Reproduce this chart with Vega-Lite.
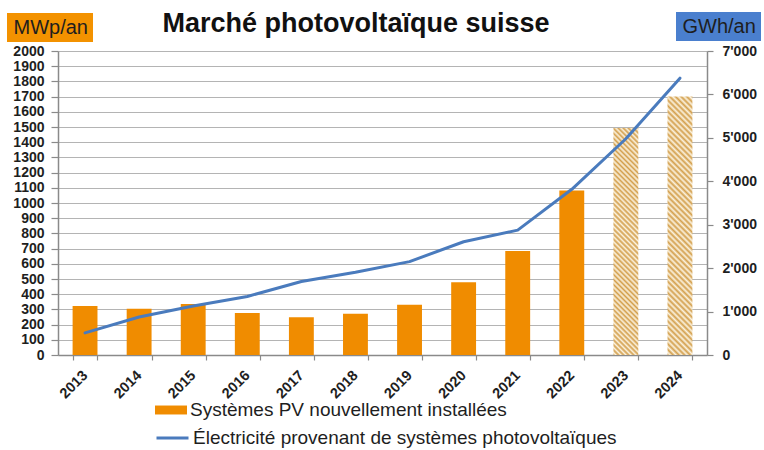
{
  "$schema": "https://vega.github.io/schema/vega-lite/v6.json",
  "width": 649,
  "height": 304,
  "autosize": "none",
  "padding": {"left": 58, "top": 51, "right": 57, "bottom": 95},
  "background": "white",
  "config": {
    "view": {"stroke": null},
    "font": "Liberation Sans",
    "axis": {"gridColor": "#b4b4b4", "gridWidth": 1.2, "domainColor": "#8a8a8a", "domainWidth": 1.5, "tickColor": "#8a8a8a", "tickWidth": 1.2, "labelColor": "#1e1e1e", "labelFont": "Liberation Sans", "labelFontWeight": "bold", "labelFontSize": 14, "title": null},
    "legend": {"labelLimit": 600, "labelColor": "#1e1e1e", "labelFont": "Liberation Sans"}
  },
  "title": {"text": "Marché photovoltaïque suisse", "fontSize": 27, "fontWeight": "bold", "font": "Liberation Sans", "color": "#111111", "anchor": "middle", "frame": "group", "dx": -26.5, "offset": -47, "baseline": "alphabetic"},
  "data": {"values": [
    {"year": "2013", "mw": 323, "gwh": 509},
    {"year": "2014", "mw": 305, "gwh": 875},
    {"year": "2015", "mw": 336, "gwh": 1127},
    {"year": "2016", "mw": 277, "gwh": 1348},
    {"year": "2017", "mw": 248, "gwh": 1692},
    {"year": "2018", "mw": 271, "gwh": 1906},
    {"year": "2019", "mw": 330, "gwh": 2150},
    {"year": "2020", "mw": 479, "gwh": 2608},
    {"year": "2021", "mw": 684, "gwh": 2876},
    {"year": "2022", "mw": 1083, "gwh": 3815},
    {"year": "2023", "mw": 1494, "gwh": 4980},
    {"year": "2024", "mw": 1701, "gwh": 6375}
  ]},
  "layer": [
    {
      "encoding": {
        "x": {"field": "year", "type": "ordinal", "scale": {"paddingInner": 0.54, "paddingOuter": 0.27},
          "axis": {"labelAngle": -45, "labelAlign": "right", "labelBaseline": "middle", "tickBand": "extent", "tickSize": 5, "labelPadding": 13, "labelFontSize": 14.5, "grid": false}},
        "y": {"field": "mw", "type": "quantitative", "scale": {"domain": [0, 2000], "nice": false},
          "axis": {"orient": "left", "values": [0,100,200,300,400,500,600,700,800,900,1000,1100,1200,1300,1400,1500,1600,1700,1800,1900,2000], "format": "d", "grid": true, "tickSize": 7, "labelPadding": 7}}
      },
      "layer": [
        {
          "transform": [{"filter": "datum.year <= '2022'"}],
          "mark": {"type": "bar"},
          "encoding": {
            "fill": {"datum": "Systèmes PV nouvellement installées", "type": "nominal", "scale": {"range": ["#f08c00"]},
              "legend": {"orient": "none", "legendX": 97, "legendY": 343, "title": null, "symbolType": "M-1,-0.28H1V0.28H-1Z", "symbolSize": 1024, "symbolStrokeWidth": 0, "labelFontSize": 19, "labelOffset": 3, "padding": 0}},
            "opacity": {"datum": "MWp/an", "type": "ordinal", "scale": {"range": [1, 1]},
              "legend": {"orient": "none", "legendX": -51, "legendY": -38, "title": null, "fillColor": "#f39200", "padding": 4.5, "labelFontSize": 20, "labelOffset": -18, "symbolSize": 1, "symbolOpacity": 0, "symbolStrokeWidth": 0}}
          }
        },
        {
          "transform": [{"filter": "datum.year == '2023'"}],
          "mark": {"type": "bar", "fill": {"gradient": "linear", "x1": 0, "y1": 1, "x2": 0.12, "y2": -0.0964, "stops": [
            {"offset": 0, "color": "#d39f4c"},{"offset": 0.01, "color": "#fbf2de"},{"offset": 0.02, "color": "#d39f4c"},{"offset": 0.03, "color": "#fbf2de"},{"offset": 0.04, "color": "#d39f4c"},{"offset": 0.05, "color": "#fbf2de"},{"offset": 0.06, "color": "#d39f4c"},{"offset": 0.07, "color": "#fbf2de"},{"offset": 0.08, "color": "#d39f4c"},{"offset": 0.09, "color": "#fbf2de"},
            {"offset": 0.1, "color": "#d39f4c"},{"offset": 0.11, "color": "#fbf2de"},{"offset": 0.12, "color": "#d39f4c"},{"offset": 0.13, "color": "#fbf2de"},{"offset": 0.14, "color": "#d39f4c"},{"offset": 0.15, "color": "#fbf2de"},{"offset": 0.16, "color": "#d39f4c"},{"offset": 0.17, "color": "#fbf2de"},{"offset": 0.18, "color": "#d39f4c"},{"offset": 0.19, "color": "#fbf2de"},
            {"offset": 0.2, "color": "#d39f4c"},{"offset": 0.21, "color": "#fbf2de"},{"offset": 0.22, "color": "#d39f4c"},{"offset": 0.23, "color": "#fbf2de"},{"offset": 0.24, "color": "#d39f4c"},{"offset": 0.25, "color": "#fbf2de"},{"offset": 0.26, "color": "#d39f4c"},{"offset": 0.27, "color": "#fbf2de"},{"offset": 0.28, "color": "#d39f4c"},{"offset": 0.29, "color": "#fbf2de"},
            {"offset": 0.3, "color": "#d39f4c"},{"offset": 0.31, "color": "#fbf2de"},{"offset": 0.32, "color": "#d39f4c"},{"offset": 0.33, "color": "#fbf2de"},{"offset": 0.34, "color": "#d39f4c"},{"offset": 0.35, "color": "#fbf2de"},{"offset": 0.36, "color": "#d39f4c"},{"offset": 0.37, "color": "#fbf2de"},{"offset": 0.38, "color": "#d39f4c"},{"offset": 0.39, "color": "#fbf2de"},
            {"offset": 0.4, "color": "#d39f4c"},{"offset": 0.41, "color": "#fbf2de"},{"offset": 0.42, "color": "#d39f4c"},{"offset": 0.43, "color": "#fbf2de"},{"offset": 0.44, "color": "#d39f4c"},{"offset": 0.45, "color": "#fbf2de"},{"offset": 0.46, "color": "#d39f4c"},{"offset": 0.47, "color": "#fbf2de"},{"offset": 0.48, "color": "#d39f4c"},{"offset": 0.49, "color": "#fbf2de"},
            {"offset": 0.5, "color": "#d39f4c"},{"offset": 0.51, "color": "#fbf2de"},{"offset": 0.52, "color": "#d39f4c"},{"offset": 0.53, "color": "#fbf2de"},{"offset": 0.54, "color": "#d39f4c"},{"offset": 0.55, "color": "#fbf2de"},{"offset": 0.56, "color": "#d39f4c"},{"offset": 0.57, "color": "#fbf2de"},{"offset": 0.58, "color": "#d39f4c"},{"offset": 0.59, "color": "#fbf2de"},
            {"offset": 0.6, "color": "#d39f4c"},{"offset": 0.61, "color": "#fbf2de"},{"offset": 0.62, "color": "#d39f4c"},{"offset": 0.63, "color": "#fbf2de"},{"offset": 0.64, "color": "#d39f4c"},{"offset": 0.65, "color": "#fbf2de"},{"offset": 0.66, "color": "#d39f4c"},{"offset": 0.67, "color": "#fbf2de"},{"offset": 0.68, "color": "#d39f4c"},{"offset": 0.69, "color": "#fbf2de"},
            {"offset": 0.7, "color": "#d39f4c"},{"offset": 0.71, "color": "#fbf2de"},{"offset": 0.72, "color": "#d39f4c"},{"offset": 0.73, "color": "#fbf2de"},{"offset": 0.74, "color": "#d39f4c"},{"offset": 0.75, "color": "#fbf2de"},{"offset": 0.76, "color": "#d39f4c"},{"offset": 0.77, "color": "#fbf2de"},{"offset": 0.78, "color": "#d39f4c"},{"offset": 0.79, "color": "#fbf2de"},
            {"offset": 0.8, "color": "#d39f4c"},{"offset": 0.81, "color": "#fbf2de"},{"offset": 0.82, "color": "#d39f4c"},{"offset": 0.83, "color": "#fbf2de"},{"offset": 0.84, "color": "#d39f4c"},{"offset": 0.85, "color": "#fbf2de"},{"offset": 0.86, "color": "#d39f4c"},{"offset": 0.87, "color": "#fbf2de"},{"offset": 0.88, "color": "#d39f4c"},{"offset": 0.89, "color": "#fbf2de"},
            {"offset": 0.9, "color": "#d39f4c"},{"offset": 0.91, "color": "#fbf2de"},{"offset": 0.92, "color": "#d39f4c"},{"offset": 0.93, "color": "#fbf2de"},{"offset": 0.94, "color": "#d39f4c"},{"offset": 0.95, "color": "#fbf2de"},{"offset": 0.96, "color": "#d39f4c"},{"offset": 0.97, "color": "#fbf2de"},{"offset": 0.98, "color": "#d39f4c"},{"offset": 0.99, "color": "#fbf2de"},
            {"offset": 1, "color": "#d39f4c"}
          ]}}
        },
        {
          "transform": [{"filter": "datum.year == '2024'"}],
          "mark": {"type": "bar", "fill": {"gradient": "linear", "x1": 0, "y1": 1, "x2": 0.1046, "y2": -0.0862, "stops": [
            {"offset": 0, "color": "#d39f4c"},{"offset": 0.01, "color": "#fbf2de"},{"offset": 0.02, "color": "#d39f4c"},{"offset": 0.03, "color": "#fbf2de"},{"offset": 0.04, "color": "#d39f4c"},{"offset": 0.05, "color": "#fbf2de"},{"offset": 0.06, "color": "#d39f4c"},{"offset": 0.07, "color": "#fbf2de"},{"offset": 0.08, "color": "#d39f4c"},{"offset": 0.09, "color": "#fbf2de"},
            {"offset": 0.1, "color": "#d39f4c"},{"offset": 0.11, "color": "#fbf2de"},{"offset": 0.12, "color": "#d39f4c"},{"offset": 0.13, "color": "#fbf2de"},{"offset": 0.14, "color": "#d39f4c"},{"offset": 0.15, "color": "#fbf2de"},{"offset": 0.16, "color": "#d39f4c"},{"offset": 0.17, "color": "#fbf2de"},{"offset": 0.18, "color": "#d39f4c"},{"offset": 0.19, "color": "#fbf2de"},
            {"offset": 0.2, "color": "#d39f4c"},{"offset": 0.21, "color": "#fbf2de"},{"offset": 0.22, "color": "#d39f4c"},{"offset": 0.23, "color": "#fbf2de"},{"offset": 0.24, "color": "#d39f4c"},{"offset": 0.25, "color": "#fbf2de"},{"offset": 0.26, "color": "#d39f4c"},{"offset": 0.27, "color": "#fbf2de"},{"offset": 0.28, "color": "#d39f4c"},{"offset": 0.29, "color": "#fbf2de"},
            {"offset": 0.3, "color": "#d39f4c"},{"offset": 0.31, "color": "#fbf2de"},{"offset": 0.32, "color": "#d39f4c"},{"offset": 0.33, "color": "#fbf2de"},{"offset": 0.34, "color": "#d39f4c"},{"offset": 0.35, "color": "#fbf2de"},{"offset": 0.36, "color": "#d39f4c"},{"offset": 0.37, "color": "#fbf2de"},{"offset": 0.38, "color": "#d39f4c"},{"offset": 0.39, "color": "#fbf2de"},
            {"offset": 0.4, "color": "#d39f4c"},{"offset": 0.41, "color": "#fbf2de"},{"offset": 0.42, "color": "#d39f4c"},{"offset": 0.43, "color": "#fbf2de"},{"offset": 0.44, "color": "#d39f4c"},{"offset": 0.45, "color": "#fbf2de"},{"offset": 0.46, "color": "#d39f4c"},{"offset": 0.47, "color": "#fbf2de"},{"offset": 0.48, "color": "#d39f4c"},{"offset": 0.49, "color": "#fbf2de"},
            {"offset": 0.5, "color": "#d39f4c"},{"offset": 0.51, "color": "#fbf2de"},{"offset": 0.52, "color": "#d39f4c"},{"offset": 0.53, "color": "#fbf2de"},{"offset": 0.54, "color": "#d39f4c"},{"offset": 0.55, "color": "#fbf2de"},{"offset": 0.56, "color": "#d39f4c"},{"offset": 0.57, "color": "#fbf2de"},{"offset": 0.58, "color": "#d39f4c"},{"offset": 0.59, "color": "#fbf2de"},
            {"offset": 0.6, "color": "#d39f4c"},{"offset": 0.61, "color": "#fbf2de"},{"offset": 0.62, "color": "#d39f4c"},{"offset": 0.63, "color": "#fbf2de"},{"offset": 0.64, "color": "#d39f4c"},{"offset": 0.65, "color": "#fbf2de"},{"offset": 0.66, "color": "#d39f4c"},{"offset": 0.67, "color": "#fbf2de"},{"offset": 0.68, "color": "#d39f4c"},{"offset": 0.69, "color": "#fbf2de"},
            {"offset": 0.7, "color": "#d39f4c"},{"offset": 0.71, "color": "#fbf2de"},{"offset": 0.72, "color": "#d39f4c"},{"offset": 0.73, "color": "#fbf2de"},{"offset": 0.74, "color": "#d39f4c"},{"offset": 0.75, "color": "#fbf2de"},{"offset": 0.76, "color": "#d39f4c"},{"offset": 0.77, "color": "#fbf2de"},{"offset": 0.78, "color": "#d39f4c"},{"offset": 0.79, "color": "#fbf2de"},
            {"offset": 0.8, "color": "#d39f4c"},{"offset": 0.81, "color": "#fbf2de"},{"offset": 0.82, "color": "#d39f4c"},{"offset": 0.83, "color": "#fbf2de"},{"offset": 0.84, "color": "#d39f4c"},{"offset": 0.85, "color": "#fbf2de"},{"offset": 0.86, "color": "#d39f4c"},{"offset": 0.87, "color": "#fbf2de"},{"offset": 0.88, "color": "#d39f4c"},{"offset": 0.89, "color": "#fbf2de"},
            {"offset": 0.9, "color": "#d39f4c"},{"offset": 0.91, "color": "#fbf2de"},{"offset": 0.92, "color": "#d39f4c"},{"offset": 0.93, "color": "#fbf2de"},{"offset": 0.94, "color": "#d39f4c"},{"offset": 0.95, "color": "#fbf2de"},{"offset": 0.96, "color": "#d39f4c"},{"offset": 0.97, "color": "#fbf2de"},{"offset": 0.98, "color": "#d39f4c"},{"offset": 0.99, "color": "#fbf2de"},
            {"offset": 1, "color": "#d39f4c"}
          ]}}
        }
      ]
    },
    {
      "mark": {"type": "line", "strokeCap": "round", "strokeJoin": "round"},
      "encoding": {
        "x": {"field": "year", "type": "ordinal"},
        "y": {"field": "gwh", "type": "quantitative", "scale": {"domain": [0, 7000], "nice": false},
          "axis": {"orient": "right", "values": [0,1000,2000,3000,4000,5000,6000,7000], "labelExpr": "replace(format(datum.value, ','), ',', \"'\")", "grid": false, "tickSize": 6, "labelPadding": 9}},
        "stroke": {"datum": "Électricité provenant de systèmes photovoltaïques", "type": "nominal", "scale": {"range": ["#4a7bbd"]},
          "legend": {"orient": "none", "legendX": 97, "legendY": 369.5, "title": null, "symbolType": "stroke", "symbolSize": 1024, "symbolStrokeWidth": 3, "labelFontSize": 19, "labelOffset": 3, "padding": 0}},
        "strokeWidth": {"datum": "GWh/an", "type": "ordinal", "scale": {"range": [3, 3]},
          "legend": {"orient": "none", "legendX": 618, "legendY": -39, "title": null, "fillColor": "#4a7fce", "padding": 4.5, "labelFontSize": 20, "labelOffset": -18, "symbolSize": 1, "symbolOpacity": 0, "symbolStrokeWidth": 0}}
      }
    }
  ],
  "resolve": {"scale": {"y": "independent"}}
}
